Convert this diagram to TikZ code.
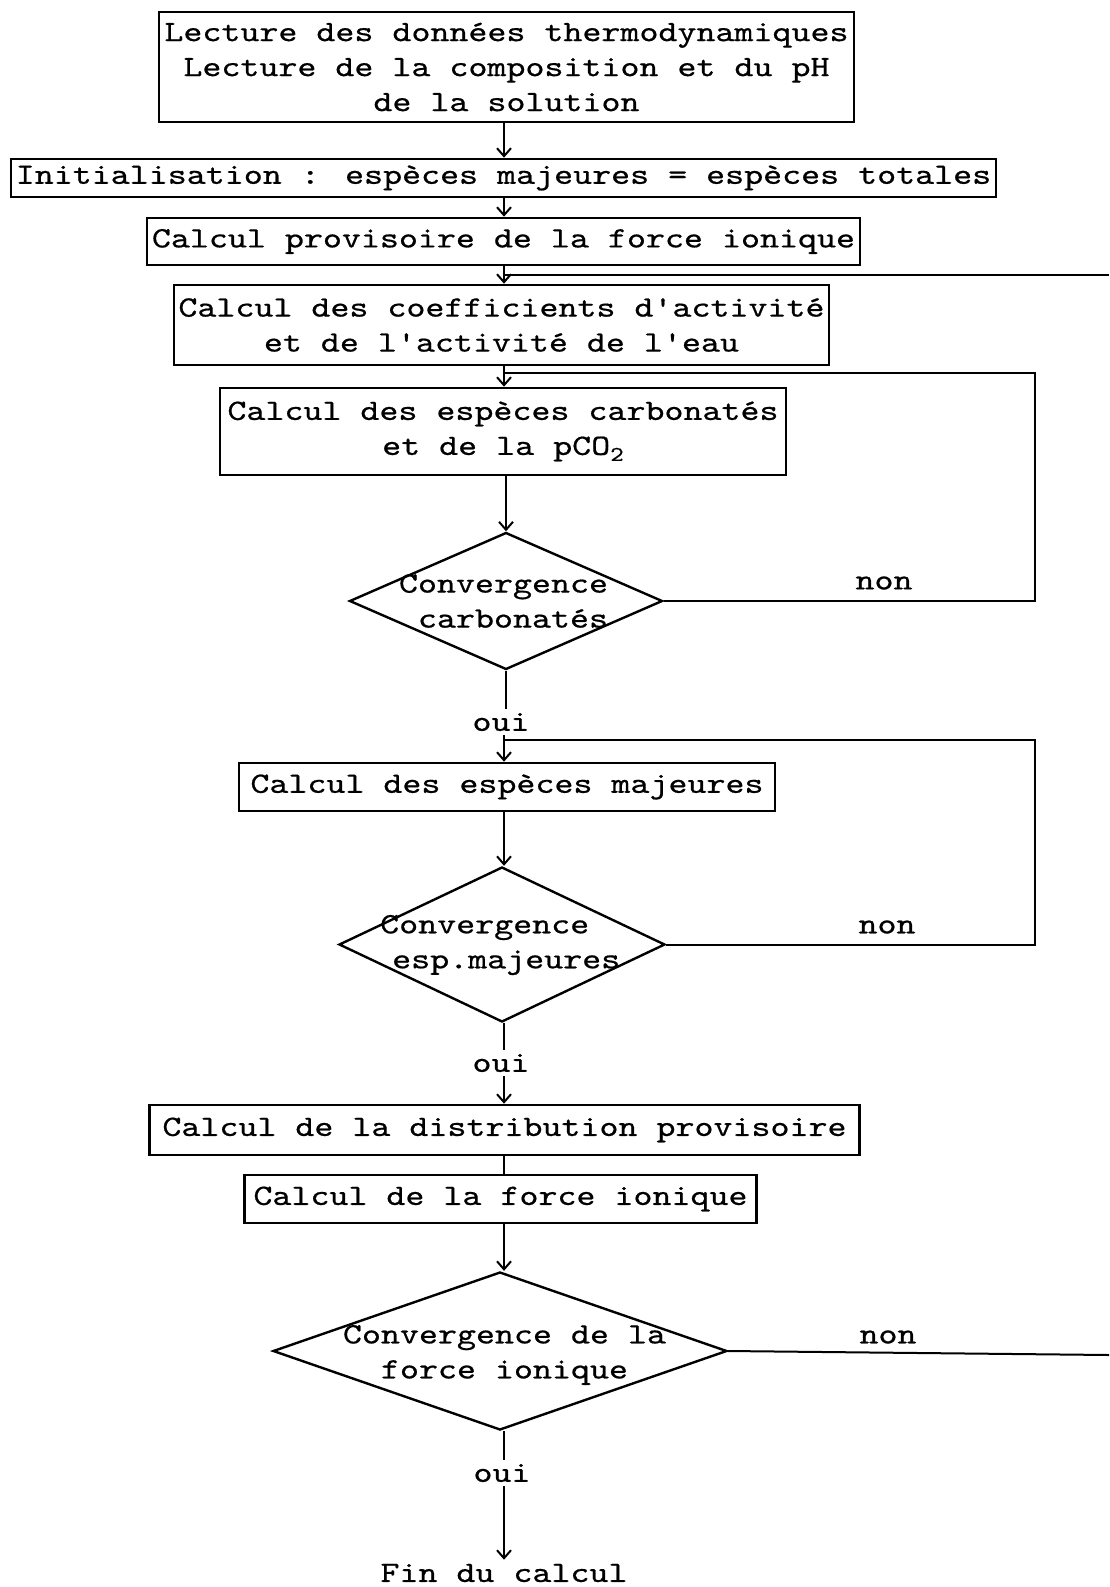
\documentclass[tikz,border=0pt]{standalone}
\usepackage{fontspec}
\newfontfamily\tw{lmmono10-regular.otf}[FakeStretch=1.227,FakeBold=0.6]
\usetikzlibrary{shapes.geometric,arrows.meta}
\begin{document}
\begin{tikzpicture}[x=1pt,y=-1pt,
  txt/.style={font={\tw\fontsize{29.5}{35}\selectfont}},
  box/.style 2 args={draw,line width=2.6pt,inner sep=0pt,align=center,txt,
    minimum width=#1,minimum height=#2},
  dec/.style 2 args={draw,diamond,line width=2.4pt,inner sep=0pt,
    minimum width=#1,minimum height=#2},
  lbl/.style={txt,inner sep=4pt},
  ln/.style={line width=2pt},
  arr/.style={ln,-{Straight Barb[length=8pt,width=14pt,line width=2pt]}}]
\fill[white] (0,0) rectangle (1109,1587);
\useasboundingbox (0,0) rectangle (1109,1587);

\coordinate (ax) at (504,0);

% boxes
\node[box={695pt}{110pt}] (b1) at (506.5,67)
  {Lecture des données thermodynamiques\\Lecture de la composition et du pH\\de la solution};
\node[box={985pt}{38pt}] (b2) at (503.5,178)
  {Initialisation : espèces majeures = espèces totales};
\node[box={713pt}{47pt}] (b3) at (503.5,241.5)
  {Calcul provisoire de la force ionique};
\node[box={655pt}{80pt}] (b4) at (501.5,325)
  {Calcul des coefficients d'activité\\et de l'activité de l'eau};
\node[box={566pt}{87pt}] (b5) at (503,431.5)
  {Calcul des espèces carbonatés\\et de la pCO\raisebox{-6pt}{\fontsize{21}{21}\selectfont 2}};
\node[dec={313pt}{137pt}] (d1) at (506,601) {};
\node[txt,align=right,inner sep=0pt] (t1) at (503.5,601) {Convergence\\carbonatés};
\node[lbl] (o1) at (501,722) {oui};
\node[box={536pt}{48pt}] (b6) at (507,787)
  {Calcul des espèces majeures};
\node[dec={326pt}{155pt}] (d2) at (502,944.5) {};
\node[txt,align=left,inner sep=0pt,anchor=west] (t2) at (380,945)
  {Convergence\\\hspace*{12pt}esp.majeures};
\node[lbl] (o2) at (501,1063) {oui};
\node[box={710pt}{50pt}] (b7) at (504.5,1130)
  {Calcul de la distribution provisoire};
\node[box={512pt}{48pt}] (b8) at (500.5,1199)
  {Calcul de la force ionique};
\node[dec={454pt}{158pt}] (d3) at (500,1351) {};
\node[txt,align=center,inner sep=0pt] (t3) at (504.5,1355) {Convergence de la\\force ionique};
\node[lbl] (o3) at (502,1473) {oui};
\node[lbl] (fin) at (504,1573) {Fin du calcul};

% non labels
\node[lbl] (n1) at (884,583) {non};
\node[lbl] (n2) at (887,927) {non};
\node[lbl] (n3) at (888,1337) {non};

% junction / corner coordinates
\coordinate (j1) at (504,275);
\coordinate (j2) at (504,373);
\coordinate (j3) at (504,740);
\coordinate (r1) at (1035,373);
\coordinate (r2) at (1035,740);
\coordinate (e0) at (1109,275);
\coordinate (e3) at (1109,1355);

% main flow
\draw[arr] (b1.south -| ax) -- (b2.north -| ax);
\draw[arr] (b2.south -| ax) -- (b3.north -| ax);
\draw[arr] (b3.south -| ax) -- (b4.north -| ax);
\draw[arr] (b4.south -| ax) -- (b5.north -| ax);
\draw[arr] (b5.south -| d1.north) -- (d1.north);
\draw[ln] (d1.south) -- (o1.north -| d1.south);
\draw[arr] (o1.south -| ax) -- (b6.north -| ax);
\draw[arr] (b6.south -| ax) -- (ax |- d2.north);
\draw[ln] (ax |- d2.south) -- (o2.north -| ax);
\draw[arr] (o2.south -| ax) -- (b7.north -| ax);
\draw[ln] (b7.south -| ax) -- (b8.north -| ax);
\draw[arr] (b8.south -| ax) -- (ax |- d3.north);
\draw[ln] (ax |- d3.south) -- (o3.north -| ax);
\draw[arr] (o3.south -| ax) -- (fin.north -| ax);

% feedback loops
\draw[ln] (d1.east) -| (r1) -- (j2);
\draw[ln] (d2.east) -| (r2) -- (j3);
\draw[ln] (d3.east) -- (e3);
\draw[ln] (e0) -- (j1);
\end{tikzpicture}
\end{document}
